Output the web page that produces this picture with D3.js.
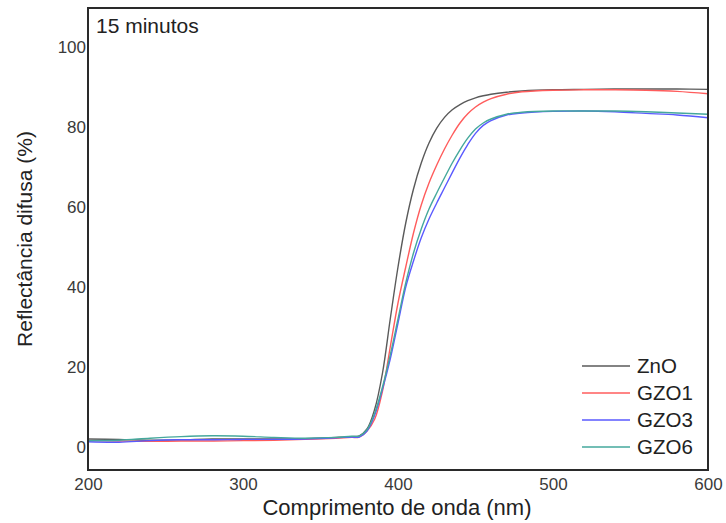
<!DOCTYPE html>
<html>
<head>
<meta charset="utf-8">
<script src="https://cdn.jsdelivr.net/npm/d3@7"></script>
<style>
  body { margin: 0; background: #fff; }
  text { font-family: "Liberation Sans", Arial, sans-serif; }
</style>
</head>
<body>
<svg width="726" height="523"></svg>
<script>
var margin = {left:88, right:18, top:8, bottom:53};
var width = 726, height = 523;

// wavelengths (nm)
var wavelengths = [200,220,240,260,280,300,320,340,360,370,
  375,380,385,390,395,400,405,410,415,420,425,430,435,440,445,450,455,460,
  470,480,500,520,540,560,580,600];

// reflectance (%)
var znO  = [2.0,1.9,1.7,1.8,2.0,2.0,2.0,2.1,2.4,2.6,
  2.8,4.5,9.5,18.5,32,45,56,64.5,71,76,79.7,82.4,84.3,85.6,86.6,87.3,87.8,88.2,
  88.7,89,89.3,89.4,89.5,89.5,89.5,89.4];
var gzo1 = [1.6,1.5,1.4,1.5,1.5,1.6,1.7,1.9,2.2,2.4,
  2.5,4,7,14,25,36,45,53.5,60.5,66,70.5,74.5,78,81,83.3,85,86.2,87.1,
  88.2,88.8,89.2,89.3,89.3,89.2,88.9,88.3];
var gzo3 = [1.3,1.2,1.6,1.8,1.8,1.9,1.9,2.0,2.3,2.5,
  2.5,4,8,14.5,22,31,40,46.5,52.3,57,61,64.8,68.6,72.3,75.6,78.4,80.4,81.6,
  83,83.5,83.9,84,83.8,83.4,83,82.3];
var gzo6 = [1.6,1.7,2.2,2.6,2.8,2.7,2.4,2.2,2.4,2.7,
  2.7,4.3,8.5,15,23,32,41,48.5,54.5,59.5,63.5,67.3,71,74.3,77.2,79.5,81,82,
  83.2,83.7,84,84,84,83.8,83.5,83.2];

var seriesNames = ["ZnO","GZO1","GZO3","GZO6"];
var seriesValues = [znO, gzo1, gzo3, gzo6];
var seriesColors = ["#5a5a5a","#ff5c5c","#5a5aff","#45a89c"];

var xTicks = [200,300,400,500,600];
var yTicks = [0,20,40,60,80,100];

var svg = d3.select("svg");

var x = d3.scaleLinear().domain([200,600]).range([margin.left, width - margin.right]);
var y = d3.scaleLinear().domain([-5.75,109.75]).range([height - margin.bottom, margin.top]);

var line = d3.line()
  .x(function(d){ return x(d[0]); })
  .y(function(d){ return y(d[1]); })
  .curve(d3.curveCatmullRom.alpha(0.5));

seriesValues.forEach(function(vals, i) {
  var pts = wavelengths.map(function(w, j){ return [w, vals[j]]; });
  svg.append("path")
    .datum(pts)
    .attr("d", line)
    .attr("fill", "none")
    .attr("stroke", seriesColors[i])
    .attr("stroke-width", 1.4);
});

// frame
svg.append("rect")
  .attr("x", margin.left)
  .attr("y", margin.top)
  .attr("width", width - margin.left - margin.right)
  .attr("height", height - margin.top - margin.bottom)
  .attr("fill", "none")
  .attr("stroke", "#2a2a2a")
  .attr("stroke-width", 2);

// axes (labels only)
var xAxis = svg.append("g")
  .attr("transform", "translate(0," + (height - margin.bottom) + ")")
  .call(d3.axisBottom(x).tickValues(xTicks).tickSize(0).tickPadding(8));
var yAxis = svg.append("g")
  .attr("transform", "translate(" + margin.left + ",0)")
  .call(d3.axisLeft(y).tickValues(yTicks).tickSize(0).tickPadding(2));
[xAxis, yAxis].forEach(function(a) {
  a.select(".domain").remove();
  a.selectAll("text")
    .attr("font-size", 17)
    .attr("font-family", "'Liberation Sans', Arial, sans-serif")
    .attr("fill", "#3a3a3a");
});

svg.append("text")
  .attr("x", 397).attr("y", 515)
  .attr("text-anchor", "middle")
  .attr("font-size", 22)
  .attr("fill", "#222")
  .text("Comprimento de onda (nm)");

svg.append("text")
  .attr("transform", "translate(32,239) rotate(-90)")
  .attr("text-anchor", "middle")
  .attr("font-size", 21)
  .attr("fill", "#222")
  .text("Reflectância difusa (%)");

svg.append("text")
  .attr("x", 96).attr("y", 33)
  .attr("font-size", 21)
  .attr("fill", "#222")
  .text("15 minutos");

// legend
var legend = svg.append("g");
seriesNames.forEach(function(name, i) {
  var ly = 366 + i * 27;
  legend.append("line")
    .attr("x1", 582).attr("x2", 630)
    .attr("y1", ly).attr("y2", ly)
    .attr("stroke", seriesColors[i])
    .attr("stroke-width", 1.4);
  legend.append("text")
    .attr("x", 637).attr("y", ly + 7)
    .attr("font-size", 20.5)
    .attr("fill", "#222")
    .text(name);
});
</script>
</body>
</html>
